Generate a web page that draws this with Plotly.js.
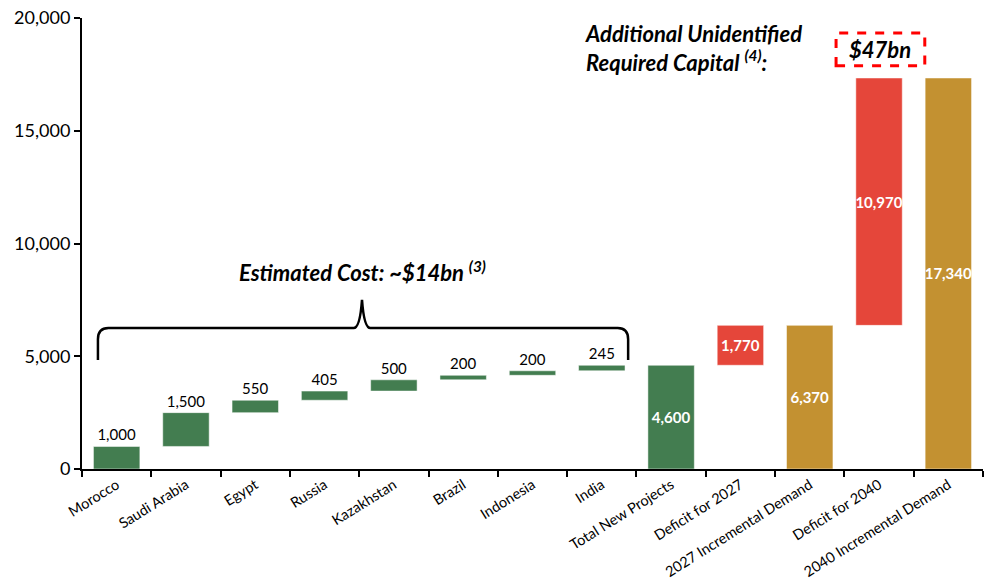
<!DOCTYPE html>
<html>
<head>
<meta charset="utf-8">
<script src="https://cdn.plot.ly/plotly-3.0.1.min.js"></script>
<style>html,body{margin:0;padding:0;background:#fff;}#chart{width:990px;height:587px;}</style>
</head>
<body>
<div id="chart"></div>
<script>
// ---- data ----
const categories = ["Morocco", "Saudi Arabia", "Egypt", "Russia", "Kazakhstan", "Brazil", "Indonesia", "India",
  "Total New Projects", "Deficit for 2027", "2027 Incremental Demand", "Deficit for 2040", "2040 Incremental Demand"];
const projectValues = [1000, 1500, 550, 405, 500, 200, 200, 245];
const totalNewProjects = 4600;
const deficit2027 = 1770;
const demand2027 = 6370;
const deficit2040 = 10970;
const demand2040 = 17340;
const yTickVals = [0, 5000, 10000, 15000, 20000];

// ---- styling ----
const GREEN = "#437D50", RED = "#E5463A", GOLD = "#C39131";
const FONT = "Lato, 'Open Sans', sans-serif";

// build waterfall bases
let run = 0;
const bases = [], vals = [], colors = [], texts = [], tpos = [], tcolors = [];
projectValues.forEach(v => {
  bases.push(run); vals.push(v); run += v;
  colors.push(GREEN); texts.push(v.toLocaleString("en-US")); tpos.push("outside"); tcolors.push("#000");
});
bases.push(0); vals.push(totalNewProjects); colors.push(GREEN);
bases.push(totalNewProjects); vals.push(deficit2027); colors.push(RED);
bases.push(0); vals.push(demand2027); colors.push(GOLD);
bases.push(demand2027); vals.push(deficit2040); colors.push(RED);
bases.push(0); vals.push(demand2040); colors.push(GOLD);
[totalNewProjects, deficit2027, demand2027, deficit2040, demand2040].forEach(v => {
  texts.push("<b>" + v.toLocaleString("en-US") + "</b>"); tpos.push("inside"); tcolors.push("#fff");
});

const trace = {
  type: "bar",
  x: categories,
  y: vals,
  base: bases,
  width: 0.67,
  marker: { color: colors, line: { color: "rgba(255,255,255,0.5)", width: 1 } },
  text: texts,
  textposition: tpos,
  textangle: 0,
  insidetextanchor: "middle",
  textfont: { family: FONT, size: 15, color: tcolors },
  outsidetextfont: { family: FONT, size: 15, color: "#000" },
  insidetextfont: { family: FONT, size: 15, color: "#fff" },
  constraintext: "none",
  cliponaxis: false,
  hoverinfo: "skip"
};

// brace geometry in data coords (x as category index)
const bx0 = -0.27, bx1 = 7.38, bxm = 3.54;
const yLow = 4830, yMid = 6250, yTop = 7500;
const bracePath =
  `M ${bx0} ${yLow} L ${bx0} ${yMid - 500} Q ${bx0} ${yMid} ${bx0 + 0.15} ${yMid} ` +
  `L ${bxm - 0.12} ${yMid} Q ${bxm - 0.03} ${yMid} ${bxm} ${yTop} ` +
  `Q ${bxm + 0.03} ${yMid} ${bxm + 0.12} ${yMid} ` +
  `L ${bx1 - 0.15} ${yMid} Q ${bx1} ${yMid} ${bx1} ${yMid - 500} L ${bx1} ${yLow}`;

const layout = {
  width: 990, height: 587,
  margin: { l: 82, r: 7, t: 18, b: 118 },
  paper_bgcolor: "#fff", plot_bgcolor: "#fff",
  font: { family: FONT, color: "#000" },
  showlegend: false,
  bargap: 0.33,
  xaxis: {
    type: "category",
    tickson: "boundaries",
    ticks: "outside", ticklen: 6, tickwidth: 2, tickcolor: "#000",
    showline: true, linecolor: "#000", linewidth: 2,
    showgrid: false, zeroline: false,
    tickangle: -32,
    tickfont: { family: FONT, size: 14.5, color: "#000" },
    range: [-0.5, 12.5], fixedrange: true
  },
  yaxis: {
    range: [0, 20000],
    tickvals: yTickVals,
    tickformat: ",",
    ticks: "outside", ticklen: 6, tickwidth: 2, tickcolor: "#000",
    showline: true, linecolor: "#000", linewidth: 2,
    showgrid: false, zeroline: false,
    tickfont: { family: FONT, size: 18, color: "#000" },
    fixedrange: true
  },
  shapes: [
    { type: "path", xref: "x", yref: "y", path: bracePath, line: { color: "#000", width: 2.5 } },
    { type: "rect", xref: "x", yref: "y", x0: 10.38, x1: 11.66, y0: 17880, y1: 19330,
      line: { color: "#FF0000", width: 3, dash: "dash" } }
  ],
  annotations: [
    { x: bxm, y: 8740, xref: "x", yref: "y", showarrow: false,
      text: "<b><i>Estimated Cost: ~$14bn <sup>(3)</sup></i></b>",
      font: { family: FONT, size: 22, color: "#000" } },
    { x: 6.73, y: 18650, xref: "x", yref: "y", xanchor: "left", showarrow: false, align: "left",
      text: "<b><i>Additional Unidentified<br>Required Capital <sup>(4)</sup>:</i></b>",
      font: { family: FONT, size: 22, color: "#000" } },
    { x: 11.02, y: 18620, xref: "x", yref: "y", showarrow: false,
      text: "<b><i>$47bn</i></b>",
      font: { family: FONT, size: 22, color: "#000" } }
  ]
};

Plotly.newPlot("chart", [trace], layout, { displayModeBar: false, staticPlot: true });
</script>
</body>
</html>
